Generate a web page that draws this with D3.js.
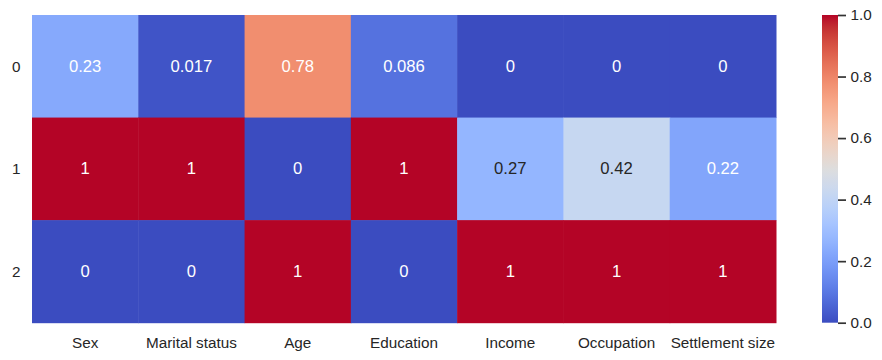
<!DOCTYPE html>
<html>
<head>
<meta charset="utf-8">
<script src="https://cdn.jsdelivr.net/npm/d3@7"></script>
<style>
  html, body { margin: 0; padding: 0; background: #fff; }
  svg { display: block; }
  text { font-family: "Liberation Sans", Arial, sans-serif; }
</style>
</head>
<body>
<svg id="chart" width="882" height="360"></svg>
<script>
// ---- data ----
const categories = ["Sex", "Marital status", "Age", "Education", "Income", "Occupation", "Settlement size"];
const rowLabels = ["0", "1", "2"];
const row0 = [0.23, 0.017, 0.78, 0.086, 0, 0, 0];
const row1 = [1, 1, 0, 1, 0.27, 0.42, 0.22];
const row2 = [0, 0, 1, 0, 1, 1, 1];
const colorbarTicks = [0, 0.2, 0.4, 0.6, 0.8, 1.0];
const rowsData = [row0, row1, row2];

(function () {
// coolwarm colormap (Moreland) stops
const cwStops = [
  [59,76,192],[68,90,204],[77,104,215],[87,117,225],[98,130,234],[108,142,241],
  [119,154,247],[130,165,251],[141,176,254],[152,185,255],[163,194,255],[174,201,253],
  [184,208,249],[194,213,244],[204,217,238],[213,219,230],[221,221,221],[229,216,209],
  [236,211,197],[241,204,185],[245,196,173],[247,187,160],[247,177,148],[247,166,135],
  [244,154,123],[241,141,111],[236,127,99],[229,112,88],[222,96,77],[213,80,66],
  [203,62,56],[192,40,47],[180,4,38]
];
const cwDomain = cwStops.map((d, i) => i / (cwStops.length - 1));
const color = d3.scaleLinear()
  .domain(cwDomain)
  .range(cwStops.map(c => `rgb(${c[0]},${c[1]},${c[2]})`))
  .interpolate(d3.interpolateRgb)
  .clamp(true);

const cells = [];
rowsData.forEach((r, i) => r.forEach((v, j) => cells.push({ row: rowLabels[i], col: categories[j], value: v })));

// ---- layout ----
const svg = d3.select("#chart");
const pLeft = 32, pRight = 776, pTop = 15, pBottom = 322.7;
const x = d3.scaleBand().domain(categories).range([pLeft, pRight]).padding(0);
const y = d3.scaleBand().domain(rowLabels).range([pTop, pBottom]).padding(0);
const textDark = "#262626";

function relLum(c) {
  const rgb = d3.rgb(c);
  const f = v => { v /= 255; return v <= 0.03928 ? v / 12.92 : Math.pow((v + 0.055) / 1.055, 2.4); };
  return 0.2126 * f(rgb.r) + 0.7152 * f(rgb.g) + 0.0722 * f(rgb.b);
}
const fmt = d3.format(".2~g");

svg.append("g").selectAll("rect").data(cells).join("rect")
  .attr("x", d => x(d.col))
  .attr("y", d => y(d.row))
  .attr("width", x.bandwidth() + 0.5)
  .attr("height", y.bandwidth() + 0.5)
  .attr("fill", d => color(d.value));

svg.append("g").selectAll("text").data(cells).join("text")
  .attr("x", d => x(d.col) + x.bandwidth() / 2)
  .attr("y", d => y(d.row) + y.bandwidth() / 2)
  .attr("text-anchor", "middle")
  .attr("dominant-baseline", "central")
  .attr("font-size", "16.67px")
  .attr("fill", d => relLum(color(d.value)) > 0.408 ? textDark : "#ffffff")
  .text(d => fmt(d.value));

// x tick labels
svg.append("g").selectAll("text").data(categories).join("text")
  .attr("x", d => x(d) + x.bandwidth() / 2)
  .attr("y", 348)
  .attr("text-anchor", "middle")
  .attr("font-size", "15.28px")
  .attr("fill", textDark)
  .text(d => d);

// y tick labels
svg.append("g").selectAll("text").data(rowLabels).join("text")
  .attr("x", 20.5)
  .attr("y", d => y(d) + y.bandwidth() / 2)
  .attr("text-anchor", "end")
  .attr("dominant-baseline", "central")
  .attr("font-size", "15.28px")
  .attr("fill", textDark)
  .text(d => d);

// ---- colorbar ----
const cbX = 822, cbW = 16;
const cbScale = d3.scaleLinear().domain([0, 1]).range([pBottom, pTop]);
const defs = svg.append("defs");
const grad = defs.append("linearGradient").attr("id", "cw")
  .attr("x1", 0).attr("y1", 1).attr("x2", 0).attr("y2", 0);
d3.range(0, 1.0001, 0.02).forEach(t => {
  grad.append("stop").attr("offset", t).attr("stop-color", color(t));
});
svg.append("rect")
  .attr("x", cbX).attr("y", pTop)
  .attr("width", cbW).attr("height", pBottom - pTop)
  .attr("fill", "url(#cw)");

const cbAxis = d3.axisRight(cbScale).tickValues(colorbarTicks).tickFormat(d3.format(".1f"))
  .tickSize(8).tickPadding(4.5);
const cbG = svg.append("g").attr("transform", `translate(${cbX + cbW},0)`).call(cbAxis);
cbG.select(".domain").remove();
cbG.selectAll(".tick line").attr("stroke", "#333333").attr("stroke-width", 1.7);
cbG.selectAll(".tick text")
  .attr("font-size", "15.28px")
  .attr("font-family", "'Liberation Sans', Arial, sans-serif")
  .attr("fill", textDark);
})();
</script>
</body>
</html>
